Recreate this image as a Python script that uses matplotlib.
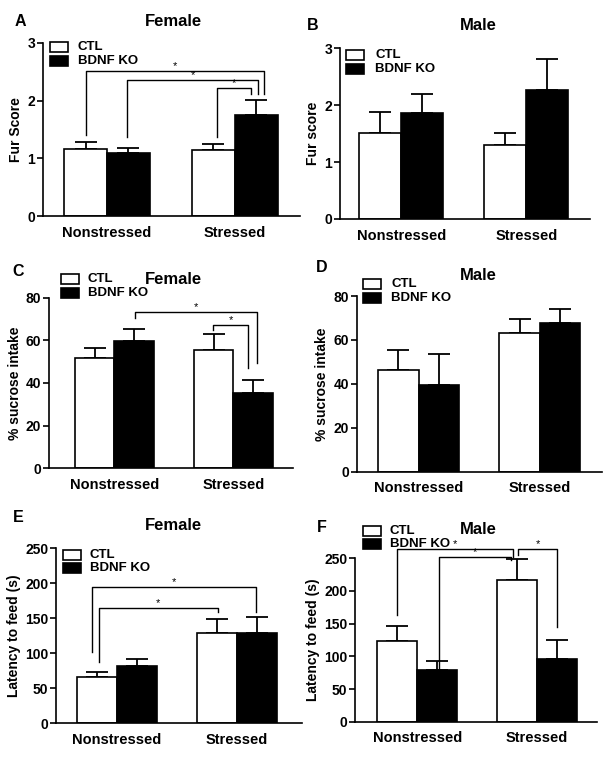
import matplotlib
matplotlib.use("Agg")
import matplotlib.pyplot as plt
from matplotlib.patches import Rectangle

plt.rcParams['font.family'] = ['Liberation Sans', 'DejaVu Sans']
plt.rcParams['font.weight'] = 'bold'

groups = ['Nonstressed', 'Stressed']
legend_labels = ['CTL', 'BDNF KO']

# Panel A: Female fur score
fur_f_ctl = [1.16, 1.14]
fur_f_ctl_err = [0.12, 0.10]
fur_f_ko = [1.10, 1.76]
fur_f_ko_err = [0.08, 0.25]
# Panel B: Male fur score
fur_m_ctl = [1.51, 1.30]
fur_m_ctl_err = [0.37, 0.21]
fur_m_ko = [1.86, 2.27]
fur_m_ko_err = [0.33, 0.54]
# Panel C: Female sucrose
suc_f_ctl = [51.9, 55.5]
suc_f_ctl_err = [4.7, 7.3]
suc_f_ko = [59.8, 35.5]
suc_f_ko_err = [5.4, 5.9]
# Panel D: Male sucrose
suc_m_ctl = [46.3, 63.3]
suc_m_ctl_err = [9.3, 6.2]
suc_m_ko = [39.6, 67.9]
suc_m_ko_err = [13.8, 6.0]
# Panel E: Female latency
lat_f_ctl = [66.7, 129.5]
lat_f_ctl_err = [6.2, 20.0]
lat_f_ko = [82.4, 128.6]
lat_f_ko_err = [9.5, 22.8]
# Panel F: Male latency
lat_m_ctl = [124.0, 217.3]
lat_m_ctl_err = [22.9, 31.2]
lat_m_ko = [79.6, 96.4]
lat_m_ko_err = [13.3, 28.1]

# significance brackets: (x_left, y_left_bottom, x_right, y_right_bottom, y_top)
brackets_a = [(-0.16, 1.40, 1.23, 2.12, 2.51),
              (0.16, 1.37, 1.18, 2.12, 2.36),
              (0.86, 1.37, 1.13, 2.12, 2.22)]
brackets_c = [(0.17, 70.3, 1.20, 49.2, 73.1),
              (0.83, 64.8, 1.12, 46.9, 67.3)]
brackets_e = [(-0.21, 102.4, 1.16, 159.5, 195.2),
              (-0.15, 88.1, 0.84, 158.6, 164.3)]
brackets_f = [(-0.17, 163.3, 0.80, 252.6, 263.8),
              (0.18, 76.5, 0.78, 247.4, 252.6),
              (0.84, 255.0, 1.17, 145.4, 263.8)]

W, H = 610, 758
fig = plt.figure(figsize=(W / 100, H / 100), dpi=100)


def fx(x):
    return x / W


def fy(y):
    return 1 - y / H


def make_ax(l, t, r, b):
    return fig.add_axes([fx(l), fy(b), fx(r - l), (b - t) / H])


panels = [
    dict(box=(43, 43, 300, 216), xlim=(-0.5, 1.51), ylim=(0, 3), yt=[0, 1, 2, 3],
         ctl=fur_f_ctl, ctle=fur_f_ctl_err, ko=fur_f_ko, koe=fur_f_ko_err,
         ylabel='Fur Score', br=brackets_a, letter=('A', 20, 22), title=('Female', 173, 22),
         leg=(50, 42, 56, 78)),
    dict(box=(340, 48.3, 590, 219), xlim=(-0.49, 1.51), ylim=(0, 3), yt=[0, 1, 2, 3],
         ctl=fur_m_ctl, ctle=fur_m_ctl_err, ko=fur_m_ko, koe=fur_m_ko_err,
         ylabel='Fur score', br=[], letter=('B', 313, 26), title=('Male', 478, 26),
         leg=(346, 50, 64, 375)),
    dict(box=(49, 297.7, 293, 468.3), xlim=(-0.55, 1.5), ylim=(0, 80), yt=[0, 20, 40, 60, 80],
         ctl=suc_f_ctl, ctle=suc_f_ctl_err, ko=suc_f_ko, koe=suc_f_ko_err,
         ylabel='% sucrose intake', br=brackets_c, letter=('C', 18, 271), title=('Female', 173, 279),
         leg=(61, 273.5, 288, 88)),
    dict(box=(356.7, 296, 601.7, 471.7), xlim=(-0.51, 1.51), ylim=(0, 80), yt=[0, 20, 40, 60, 80],
         ctl=suc_m_ctl, ctle=suc_m_ctl_err, ko=suc_m_ko, koe=suc_m_ko_err,
         ylabel='% sucrose intake', br=[], letter=('D', 322, 267), title=('Male', 478, 275),
         leg=(363, 278.5, 293, 391)),
    dict(box=(56, 548.3, 301.7, 723.3), xlim=(-0.506, 1.54), ylim=(0, 250), yt=[0, 50, 100, 150, 200, 250],
         ctl=lat_f_ctl, ctle=lat_f_ctl_err, ko=lat_f_ko, koe=lat_f_ko_err,
         ylabel='Latency to feed (s)', br=brackets_e, letter=('E', 18, 517), title=('Female', 173, 526),
         leg=(63, 549.5, 563, 90)),
    dict(box=(355, 558.3, 596.7, 721.7), xlim=(-0.52, 1.50), ylim=(0, 250), yt=[0, 50, 100, 150, 200, 250],
         ctl=lat_m_ctl, ctle=lat_m_ctl_err, ko=lat_m_ko, koe=lat_m_ko_err,
         ylabel='Latency to feed (s)', br=brackets_f, letter=('F', 322, 528), title=('Male', 478, 529),
         leg=(362.5, 525.5, 539, 390)),
]

bw = 0.335
for p in panels:
    ax = make_ax(*p['box'])
    xs = list(range(len(groups)))
    x_ctl = [x - bw / 2 for x in xs]
    x_ko = [x + bw / 2 for x in xs]
    ax.bar(x_ctl, p['ctl'], width=bw, color='white', edgecolor='black', linewidth=1.2, zorder=2)
    ax.bar(x_ko, p['ko'], width=bw, color='black', edgecolor='black', linewidth=1.2, zorder=2)
    ax.errorbar(x_ctl, p['ctl'], yerr=[[0] * len(xs), p['ctle']], fmt='none', ecolor='black',
                elinewidth=1.3, capsize=8, capthick=1.3, zorder=1)
    ax.errorbar(x_ko, p['ko'], yerr=[[0] * len(xs), p['koe']], fmt='none', ecolor='black',
                elinewidth=1.3, capsize=8, capthick=1.3, zorder=1)
    ax.set_xlim(*p['xlim'])
    ax.set_ylim(*p['ylim'])
    ax.set_yticks(p['yt'])
    ax.set_xticks(xs)
    ax.set_xticklabels(groups, fontsize=10.5, fontweight='bold')
    ax.tick_params(axis='x', length=0, pad=7)
    ax.tick_params(axis='y', length=4, width=1.2, pad=1.5, labelsize=10)
    for lab in ax.get_yticklabels():
        lab.set_fontweight('bold')
    for s in ['top', 'right']:
        ax.spines[s].set_visible(False)
    for s in ['left', 'bottom']:
        ax.spines[s].set_linewidth(1.2)
    ax.set_ylabel(p['ylabel'], fontsize=10, fontweight='bold', labelpad=3)
    for (x1, y1, x2, y2, top) in p['br']:
        ax.plot([x1, x1, x2, x2], [y1, top, top, y2], color='black', lw=1.0, clip_on=False, zorder=3)
        ax.text((x1 + x2) / 2, top, '*', ha='center', va='bottom', fontsize=8,
                fontweight='normal', clip_on=False)
    # letter and title
    L, lx, ly = p['letter']
    fig.text(fx(lx), fy(ly), L, fontsize=11.5, fontweight='bold', ha='center', va='center')
    T, tx, ty = p['title']
    fig.text(fx(tx), fy(ty), T, fontsize=12, fontweight='bold', ha='center', va='center')
    # legend
    bx, y1, y2, tx2 = p['leg']
    bwid, bh = 18, 10
    for yy, fc, lab in [(y1, 'white', legend_labels[0]), (y2, 'black', legend_labels[1])]:
        r = Rectangle((fx(bx), fy(yy + bh)), bwid / W, bh / H, transform=fig.transFigure,
                      facecolor=fc, edgecolor='black', linewidth=1.2)
        fig.add_artist(r)
        fig.text(fx(tx2), fy(yy + bh / 2), lab, fontsize=9.5, fontweight='bold',
                 ha='left', va='center')

fig.savefig('out.png', dpi=100)
